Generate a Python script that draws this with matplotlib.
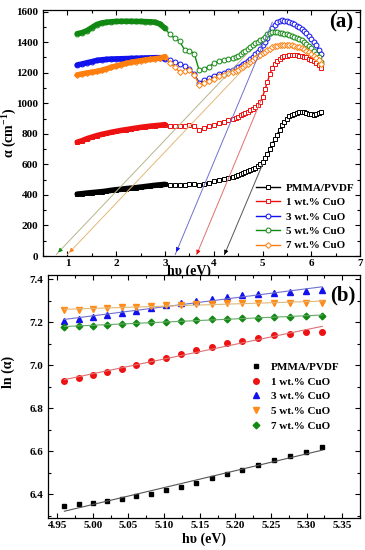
import matplotlib
matplotlib.use('Agg')
import matplotlib.pyplot as plt
import numpy as np

plt.rcParams['font.family'] = ['Liberation Serif', 'DejaVu Serif']
plt.rcParams['font.weight'] = 'bold'
plt.rcParams['axes.labelweight'] = 'bold'
plt.rcParams['mathtext.fontset'] = 'custom'
plt.rcParams['mathtext.rm'] = 'Liberation Serif:bold'
plt.rcParams['mathtext.bf'] = 'Liberation Serif:bold'

labels = ['PMMA/PVDF', '1 wt.% CuO', '3 wt.% CuO', '5 wt.% CuO', '7 wt.% CuO']

# (a) absorption coefficient vs photon energy
hv = [1.2, 1.3, 1.4, 1.5, 1.6, 1.7, 1.8, 1.9, 2.0, 2.1, 2.2, 2.3, 2.4, 2.5, 2.6, 2.7, 2.8, 2.9,
      3.0, 3.1, 3.2, 3.3, 3.4, 3.5, 3.6, 3.7, 3.8, 3.9, 4.0, 4.1, 4.2, 4.3, 4.4,
      4.45, 4.5, 4.55, 4.6, 4.65, 4.7, 4.75, 4.8, 4.85, 4.9, 4.95, 5.0, 5.05, 5.1, 5.15,
      5.2, 5.25, 5.3, 5.35, 5.4, 5.45, 5.5, 5.55, 5.6, 5.65, 5.7, 5.75, 5.8, 5.85, 5.9,
      5.95, 6.0, 6.05, 6.1, 6.15, 6.2]
alpha_pmma = [405, 408, 412, 415, 418, 421, 425, 430, 434, 437, 441, 444, 447, 451, 455, 459, 463, 466,
              469, 465, 464, 466, 468, 470, 472, 466, 472, 480, 488, 495, 503, 512, 520,
              525, 530, 536, 542, 548, 555, 562, 570, 578, 588, 600, 615, 640, 668, 700,
              735, 765, 795, 825, 855, 880, 900, 915, 925, 932, 938, 940, 942, 940, 937,
              932, 928, 925, 928, 938, 945]
alpha_1 = [745, 755, 768, 778, 788, 796, 803, 810, 816, 822, 827, 832, 837, 842, 846, 850, 853, 856,
           860, 850, 848, 849, 852, 855, 848, 826, 840, 850, 860, 870, 880, 890, 898,
           905, 912, 920, 928, 936, 945, 955, 965, 975, 987, 1005, 1040, 1090, 1140, 1190,
           1230, 1258, 1275, 1290, 1300, 1308, 1312, 1315, 1316, 1315, 1313, 1312, 1310, 1305, 1300,
           1292, 1285, 1275, 1262, 1248, 1228]
alpha_3 = [1250, 1257, 1265, 1272, 1280, 1284, 1287, 1289, 1290, 1291, 1292, 1293, 1294, 1295, 1296, 1297, 1298, 1298,
           1290, 1280, 1270, 1258, 1245, 1225, 1190, 1135, 1150, 1165, 1180, 1192, 1200, 1210, 1220,
           1228, 1236, 1245, 1255, 1266, 1278, 1290, 1305, 1320, 1337, 1355, 1378, 1403, 1430, 1460,
           1490, 1515, 1532, 1540, 1542, 1540, 1535, 1530, 1524, 1516, 1508, 1497, 1485, 1470, 1457,
           1440, 1420, 1400, 1378, 1350, 1320]
alpha_5 = [1455, 1462, 1475, 1495, 1515, 1525, 1530, 1533, 1535, 1536, 1536, 1536, 1535, 1535, 1534, 1533, 1530, 1518,
           1490, 1450, 1425, 1405, 1350, 1345, 1325, 1215, 1225, 1240, 1260, 1275, 1285, 1290, 1295,
           1300, 1310, 1320, 1335, 1345, 1358, 1370, 1382, 1393, 1403, 1412, 1422, 1435, 1450, 1462,
           1467, 1468, 1466, 1462, 1458, 1454, 1450, 1446, 1442, 1436, 1430, 1422, 1413, 1402, 1390,
           1377, 1362, 1345, 1325, 1300, 1268]
alpha_7 = [1185, 1192, 1198, 1203, 1208, 1215, 1225, 1235, 1244, 1252, 1260, 1267, 1273, 1278, 1283, 1287, 1291, 1295,
           1305, 1265, 1235, 1205, 1210, 1215, 1185, 1122, 1135, 1148, 1160, 1175, 1185, 1195, 1205,
           1212, 1220, 1228, 1238, 1248, 1258, 1270, 1282, 1295, 1307, 1318, 1328, 1338, 1348, 1358,
           1366, 1372, 1377, 1380, 1382, 1383, 1382, 1380, 1378, 1375, 1371, 1366, 1360, 1352, 1344,
           1335, 1325, 1312, 1298, 1280, 1258]

# extrapolated band-edge lines: onset on the axis and the upper end on the curve
onset = [4.22, 3.65, 3.21, 0.77, 1.0]
tangent_end_x = [5.0, 4.97, 5.2, 4.7, 4.75]
tangent_end_y = [600, 1020, 1530, 1330, 1270]

# (b) ln(alpha) vs photon energy
hv_b = [4.960, 4.980, 5.000, 5.020, 5.041, 5.061, 5.082, 5.103, 5.124, 5.145, 5.167, 5.188,
        5.210, 5.232, 5.254, 5.277, 5.299, 5.322]
ln_pmma = [6.346, 6.353, 6.361, 6.369, 6.380, 6.391, 6.403, 6.420, 6.436, 6.454, 6.474, 6.494,
           6.515, 6.536, 6.558, 6.578, 6.598, 6.620]
ln_1 = [6.929, 6.940, 6.954, 6.968, 6.984, 7.002, 7.018, 7.036, 7.053, 7.071, 7.087, 7.102,
        7.115, 7.127, 7.140, 7.147, 7.153, 7.157]
ln_3 = [7.206, 7.217, 7.225, 7.236, 7.245, 7.254, 7.267, 7.279, 7.290, 7.298, 7.309, 7.316,
        7.326, 7.332, 7.338, 7.343, 7.347, 7.349]
ln_5 = [7.256, 7.257, 7.260, 7.265, 7.270, 7.273, 7.276, 7.279, 7.282, 7.285, 7.287, 7.288,
        7.290, 7.291, 7.291, 7.291, 7.291, 7.291]
ln_7 = [7.178, 7.181, 7.184, 7.188, 7.192, 7.197, 7.200, 7.203, 7.206, 7.209, 7.214, 7.217,
        7.220, 7.222, 7.225, 7.226, 7.228, 7.228]

colors = ['black', '#ee1111', '#1111ee', '#118811', '#ff7f0e']
line_colors = ['#555555', '#e07070', '#7070d0', '#b8b48a', '#e2b878']
markers_a = ['s', 's', 'o', 'o', 'D']

fig = plt.figure(figsize=(3.65, 5.5), dpi=100)
ax1 = fig.add_axes([0.118, 0.5345, 0.8685, 0.4473])
ax2 = fig.add_axes([0.1315, 0.0582, 0.8548, 0.4418])

hv = np.array(hv)
series_a = [alpha_pmma, alpha_1, alpha_3, alpha_5, alpha_7]
for y, c, m, lab in zip(series_a, colors, markers_a, labels):
    y = np.array(y)
    ms = 3.0 if m == 'D' else 3.5
    ax1.plot(hv, y, '-', color=c, marker=m, ms=ms, mfc='white', mec=c, mew=0.7, lw=1.0, label=lab)
    # dense low-energy part shows as a solid band
    low = hv <= 3.0
    ax1.plot(hv[low], y[low], '-', color=c, lw=4.0, solid_capstyle='round')

for x0, x1, y1, lc, c in zip(onset, tangent_end_x, tangent_end_y, line_colors, colors):
    ax1.plot([x0, x1], [10, y1], color=lc, lw=0.7)
    dx = (x1 - x0) * 0.03
    dy = (y1 - 10) * 0.03
    ax1.annotate('', xy=(x0, 10), xytext=(x0 + dx, 10 + dy),
                 arrowprops=dict(arrowstyle='-|>', color=c, lw=0.6, mutation_scale=6))

ax1.set_xlim(0.5, 7.0)
ax1.set_ylim(0, 1610)
ax1.set_xticks([1, 2, 3, 4, 5, 6, 7])
ax1.set_xticks(np.arange(0.5, 7.01, 0.5), minor=True)
ax1.set_yticks(np.arange(0, 1601, 200))
ax1.set_yticks(np.arange(0, 1601, 100), minor=True)
ax1.set_ylabel(r'α (cm$^{\mathbf{-1}}$)', fontsize=10)
ax1.set_xlabel('hυ (eV)', fontsize=10)
ax1.xaxis.set_label_coords(0.46, -0.035)
ax1.yaxis.set_label_coords(-0.078, 0.5)
ax1.text(0.94, 0.95, '(a)', transform=ax1.transAxes, fontsize=15, fontweight='bold', ha='center', va='center')
ax1.legend(loc='lower right', bbox_to_anchor=(1.0, 0.0), frameon=False, fontsize=8,
           handlelength=2.2, handletextpad=0.5, labelspacing=0.42, borderpad=0.3, borderaxespad=0.2)

# (b)
hv_b = np.array(hv_b)
series_b = [ln_pmma, ln_1, ln_3, ln_5, ln_7]
markers_b = ['s', 'o', '^', 'v', 'D']
fit_colors = ['#555555', '#e07070', '#7070d0', '#e2b878', '#66aa66']
for y, c, m, fc, lab in zip(series_b, colors[:2] + ['#1111ee', '#ff8c1a', '#118811'], markers_b, fit_colors, labels):
    ms = 3.4 if m in ('s', 'D') else 4.0
    ax2.plot(hv_b, y, linestyle='none', marker=m, color=c, ms=ms, label=lab)
    k, b = np.polyfit(hv_b, y, 1)
    ax2.plot(hv_b, k * hv_b + b, color=fc, lw=0.8)

ax2.set_xlim(4.937, 5.375)
ax2.set_ylim(6.29, 7.42)
ax2.set_xticks(np.arange(4.95, 5.351, 0.05))
ax2.set_xticks(np.arange(4.95, 5.376, 0.025), minor=True)
ax2.set_yticks(np.arange(6.4, 7.41, 0.2))
ax2.set_yticks(np.arange(6.3, 7.41, 0.1), minor=True)
ax2.xaxis.set_major_formatter(plt.FormatStrFormatter('%.2f'))
ax2.yaxis.set_major_formatter(plt.FormatStrFormatter('%.1f'))
ax2.set_xlabel('hυ (eV)', fontsize=10, labelpad=2)
ax2.set_ylabel('ln (α)', fontsize=10)
ax2.yaxis.set_label_coords(-0.105, 0.6)
ax2.text(0.945, 0.915, '(b)', transform=ax2.transAxes, fontsize=15, fontweight='bold', ha='center', va='center')
ax2.legend(loc='upper left', bbox_to_anchor=(0.63, 0.665), frameon=False, fontsize=8,
           handlelength=1.0, handletextpad=0.9, labelspacing=0.45, borderpad=0.0, markerscale=1.0)

for ax in (ax1, ax2):
    ax.tick_params(which='both', direction='in', top=True, right=True, labelsize=8, width=0.8)
    ax.tick_params(which='major', length=3.5)
    ax.tick_params(which='minor', length=2)
    ax.tick_params(axis='x', pad=2)
    for s in ax.spines.values():
        s.set_linewidth(0.9)

fig.savefig('out.png', dpi=100)
